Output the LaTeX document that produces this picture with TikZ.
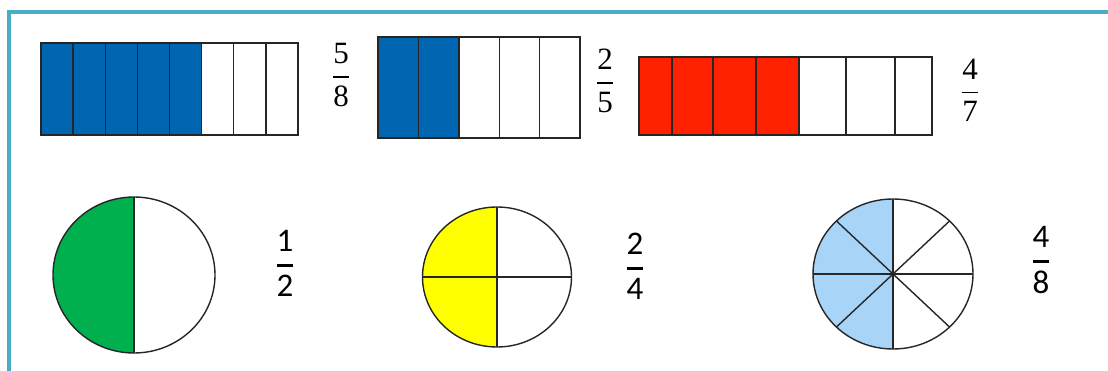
\documentclass[tikz,border=0pt]{standalone}
\usepackage{fix-cm}
\usepackage{amsmath}
\usepackage{fontspec}
\newfontfamily\calibri{Carlito}
\newfontfamily\cambria{Liberation Serif}
\usepackage{tikz}

\definecolor{frameTeal}{HTML}{4BACC6}
\definecolor{barBlue}{HTML}{0066B2}
\definecolor{barRed}{HTML}{FF2200}
\definecolor{pieGreen}{HTML}{00B04F}
\definecolor{pieYellow}{HTML}{FFFF00}
\definecolor{pieSky}{HTML}{A8D4F8}

\newcommand{\barfrac}[2]{$\genfrac{}{}{1.6pt}{0}{\text{\cambria #1}}{\text{\cambria #2}}$}
\newcommand{\piefrac}[2]{$\genfrac{}{}{2.6pt}{0}{\text{\calibri #1}}{\text{\calibri #2}}$}

\begin{document}
\begin{tikzpicture}[x=1pt, y=-1pt,
    outl/.style={draw=black!85, line width=1.4pt},
    pie/.style={draw=black!85, line width=1.4pt},
    frc/.style={font=\fontsize{31}{36}\selectfont, inner sep=0pt},
    cfrc/.style={font=\fontsize{33}{38}\selectfont, inner sep=0pt}
]
\useasboundingbox (0,0) rectangle (1108,371);
\draw[frameTeal, line width=4pt] (8.5,371) -- (8.5,12) -- (1108,12);

% bar: 5/8
\fill[barBlue] (41,43) rectangle (201.6,135);
\foreach \i in {1,...,7}
  \draw[outl] ({41+\i*32.125},43) -- ({41+\i*32.125},135);
\draw[outl] (41,43) rectangle (298,135);
\node[frc] (f58) at (341,75) {\barfrac{5}{8}};

% bar: 2/5
\fill[barBlue] (378,37) rectangle (459,138);
\foreach \i in {1,...,4}
  \draw[outl] ({378+\i*40.4},37) -- ({378+\i*40.4},138);
\draw[outl] (378,37) rectangle (580,138);
\node[frc] (f25) at (605,81) {\barfrac{2}{5}};

% bar: 4/7
\fill[barRed] (639,57) rectangle (799,135);
\foreach \x in {672,713,756,799,846,895}
  \draw[outl] (\x,57) -- (\x,135);
\draw[outl] (639,57) rectangle (932,135);
\node[frc] (f47) at (970,90) {\barfrac{4}{7}};

% circle: 1/2
\coordinate (c1) at (134,275);
\fill[pieGreen] (c1) ++(0,78) arc[start angle=90, end angle=270, x radius=81, y radius=78] -- cycle;
\draw[pie] (c1) ellipse[x radius=81, y radius=78];
\draw[pie] (c1) ++(0,-78) -- ++(0,156);
\node[cfrc] (f12) at (285,263) {\piefrac{1}{2}};

% circle: 2/4
\coordinate (c2) at (497,277);
\fill[pieYellow] (c2) ++(0,70) arc[start angle=90, end angle=270, x radius=74.5, y radius=70] -- cycle;
\draw[pie] (c2) ellipse[x radius=74.5, y radius=70];
\draw[pie] (c2) ++(0,-70) -- ++(0,140);
\draw[pie] (c2) ++(-74.5,0) -- ++(149,0);
\node[cfrc] (f24) at (635,266) {\piefrac{2}{4}};

% circle: 4/8
\coordinate (c3) at (893,274);
\fill[pieSky] (c3) ++(0,75) arc[start angle=90, end angle=270, x radius=80, y radius=75] -- cycle;
\draw[pie] (c3) ellipse[x radius=80, y radius=75];
\foreach \a in {0,45,...,315}
  \draw[pie] (c3) -- ++({80*cos(\a)},{75*sin(\a)});
\node[cfrc] (f48) at (1041,260) {\piefrac{4}{8}};
\end{tikzpicture}
\end{document}
